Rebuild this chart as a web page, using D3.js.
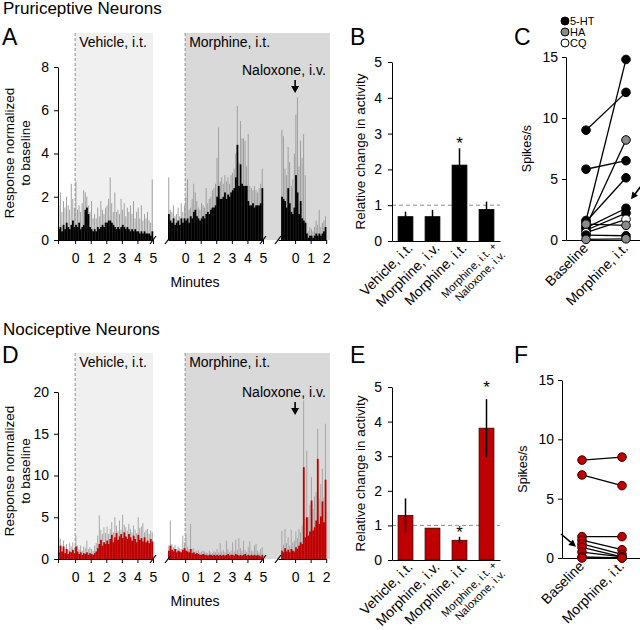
<!DOCTYPE html>
<html><head><meta charset="utf-8">
<script src="https://cdn.jsdelivr.net/npm/d3@7/dist/d3.min.js"></script>
<style>
body{margin:0;background:#fff}
svg text{font-family:"Liberation Sans",Arial,Helvetica,sans-serif;fill:#000}
</style>
</head><body>
<svg id="chart" width="640" height="630"></svg>
<script>
// ================= DATA =================
const binWidthMin = 0.1;
const longSegStart = -1.1;     // first bin (min) of vehicle / morphine traces
const nalSegStart = -0.9;      // first bin (min) of naloxone trace
const minuteTicksLong = [0, 1, 2, 3, 4, 5];
const minuteTicksShort = [0, 1, 2];
const pruYTicks = [0, 2, 4, 6, 8];
const nocYTicks = [0, 5, 10, 15, 20];

// Pruriceptive traces (mean = black, upper envelope = gray)
const pruVehMean = [0.5,0.6,0.4,0.7,0.5,0.8,0.6,0.5,0.7,0.9,0.6,
  0.7,0.6,0.8,0.5,0.6,0.7,1.4,1.5,1.2,0.6,
  0.5,0.4,0.5,0.4,0.6,0.5,0.6,0.7,0.6,0.8,
  0.8,0.9,0.9,0.8,0.7,0.6,0.5,0.6,0.5,0.6,
  0.7,0.6,0.5,0.6,0.5,0.4,0.5,0.4,0.5,0.4,
  0.4,0.3,0.4,0.3,0.4,0.3,0.3,0.3,0.2,0.4];
const pruVehUpper = [1.6,2.2,1.3,1.8,1.5,2.0,1.6,1.4,2.6,1.9,1.5,
  2.7,1.4,1.6,1.3,1.7,2.3,2.2,2.0,1.6,1.3,
  1.8,1.0,1.2,1.0,1.5,1.1,1.8,1.4,1.2,1.5,
  1.6,1.9,2.9,1.7,1.3,2.2,1.3,1.4,1.2,1.9,
  1.4,1.7,1.1,1.5,1.3,1.6,1.2,1.8,1.0,1.3,
  1.5,1.0,1.6,0.9,1.2,1.0,1.3,0.9,0.8,2.8];
const pruMorMean = [1.2,0.9,0.8,1.0,0.7,0.8,0.9,0.7,1.0,0.8,1.0,
  0.9,1.0,0.8,1.1,1.0,1.3,1.4,1.1,1.0,0.9,
  1.0,1.1,1.0,1.2,1.3,1.2,1.4,1.5,1.5,1.6,
  2.0,2.5,1.9,1.9,2.0,2.2,1.9,2.1,2.0,2.2,
  2.3,2.4,2.9,4.4,2.5,3.5,2.6,2.5,2.5,2.5,
  1.8,1.6,1.6,1.7,1.5,1.6,1.6,1.6,1.7,2.4];
const pruMorUpper = [2.9,1.4,1.3,1.6,1.1,1.2,1.5,1.1,1.7,1.3,1.6,
  2.0,2.8,1.4,1.5,1.9,2.6,2.2,1.8,1.5,1.4,
  1.7,1.6,1.5,2.4,1.7,1.9,2.0,2.3,2.4,2.6,
  3.8,5.2,2.7,2.9,2.6,3.0,2.7,2.9,2.6,3.0,
  3.1,3.3,4.0,6.2,3.6,5.5,4.7,4.7,4.6,3.4,
  4.9,2.5,2.4,2.3,2.5,2.3,2.2,2.4,2.6,3.3];
const pruNalMean = [2.0,1.9,1.8,1.5,2.4,1.7,1.3,1.2,1.5,
  3.0,2.2,1.2,1.8,1.0,0.9,0.8,0.3,0.1,0.2,
  0.2,0.1,0.2,0.3,0.2,0.3,0.2,0.3,0.4,0.6];
const pruNalUpper = [5.1,4.8,3.3,3.0,4.3,3.6,2.5,2.8,4.0,
  5.8,6.6,3.4,4.6,3.8,4.9,3.0,0.8,0.4,0.6,
  0.5,0.4,0.6,0.9,0.7,1.4,0.6,0.8,0.9,1.1];

// Nociceptive traces (mean = red, upper envelope = gray)
const nocVehMean = [0.8,1.6,0.9,1.5,0.7,1.2,0.6,0.9,0.8,1.1,0.7,
  1.5,0.9,0.6,0.8,0.5,0.7,0.6,0.8,0.5,0.7,
  0.6,0.5,0.7,0.9,1.3,1.8,2.3,1.6,2.0,1.8,
  2.2,1.8,2.4,2.9,2.0,2.6,3.1,2.3,2.7,3.0,
  2.5,3.2,2.7,2.4,3.0,2.6,2.2,2.8,2.4,2.0,
  2.9,2.3,2.5,2.1,2.6,2.0,2.2,1.9,2.4,2.1];
const nocVehUpper = [2.5,2.4,1.6,2.2,1.2,1.8,1.1,1.9,1.5,2.0,1.4,
  2.8,1.6,1.2,1.6,1.0,1.5,1.3,2.2,1.2,1.4,
  1.2,1.0,1.6,1.9,2.8,5.2,3.5,3.0,3.8,3.1,
  3.9,3.0,3.6,4.4,3.2,5.0,4.0,3.3,4.6,3.5,
  5.3,4.1,3.8,3.4,4.2,3.6,3.2,4.0,3.5,3.1,
  5.0,3.7,3.9,4.3,3.2,3.5,3.6,3.0,3.4,3.2];
const nocMorMean = [1.0,1.6,1.1,0.9,1.2,0.8,1.0,0.9,0.8,1.1,1.3,
  1.0,0.9,0.8,1.2,0.7,0.8,0.6,0.7,0.6,0.5,
  0.5,0.6,0.5,0.5,0.4,0.5,0.5,0.4,0.5,0.4,
  0.5,0.4,0.5,0.4,0.5,0.4,0.5,0.6,0.4,0.5,
  0.5,0.4,0.6,0.5,0.4,0.5,0.4,0.5,0.6,0.4,
  0.5,0.4,0.5,0.4,0.5,0.4,0.5,0.4,0.3,0.5];
const nocMorUpper = [1.6,4.6,1.8,1.4,1.7,1.2,1.5,1.3,1.2,2.8,2.0,
  3.0,1.5,1.2,4.2,1.2,1.3,0.9,1.0,1.1,0.8,
  0.9,1.0,0.9,0.8,0.7,1.0,0.8,0.7,0.9,0.8,
  1.2,0.8,1.9,0.9,1.1,0.8,2.2,1.2,0.8,1.0,
  2.0,0.9,2.3,1.1,2.5,1.3,1.0,2.2,1.1,0.8,
  1.4,2.1,1.0,0.9,1.6,1.8,1.0,0.8,1.2,1.4];
const nocNalMean = [1.0,0.8,1.3,0.9,1.1,0.8,1.2,1.0,0.9,
  1.4,1.2,1.6,2.0,1.8,11.0,2.6,5.0,2.8,3.3,
  7.0,3.4,3.8,4.6,12.0,4.2,5.1,6.9,4.4,9.5];
const nocNalUpper = [3.4,1.7,3.6,1.9,2.6,1.6,3.5,2.0,2.2,
  3.3,2.5,3.6,3.2,4.0,19.0,4.8,13.0,5.0,6.5,
  9.8,6.0,7.5,8.0,15.6,7.2,9.0,10.8,7.4,16.2];

// Bar charts (B, E)
const barCategories = ["Vehicle, i.t.", "Morphine, i.v.", "Morphine, i.t.", "Morphine, i.t. +|Naloxone, i.v."];
const barYTicks = [0, 1, 2, 3, 4, 5];
const pruBarMean = [0.68, 0.68, 2.12, 0.88];
const pruBarErr  = [0.14, 0.19, 0.47, 0.22];
const pruBarStar = [null, null, 2.79, null];
const nocBarMean = [1.29, 0.92, 0.57, 3.81];
const nocBarErr  = [0.49, 0.0, 0.10, 0.84];
const nocBarStar = [null, null, 0.87, 5.06];

// Paired spike rates (C, F)
const spikeCats = ["Baseline", "Morphine, i.t."];
const spikeYTicks = [0, 5, 10, 15];
const legendLabels = ["5-HT", "HA", "CQ"];
const pruSpikeBase = [9.0, 5.8, 1.6, 1.1, 1.5, 1.0, 0.8, 0.6, 1.3, 0.4, 0.05];
const pruSpikeMor  = [12.1, 6.5, 14.8, 8.2, 5.1, 2.6, 2.2, 1.7, 1.2, 0.35, 0.1];
const pruSpikeType = ["5-HT","5-HT","5-HT","HA","5-HT","5-HT","5-HT","CQ","HA","5-HT","HA"];
const nocSpikeBase = [8.25, 7.0, 1.8, 1.5, 1.2, 0.9, 0.5, 0.1, 0.0];
const nocSpikeMor  = [8.5, 6.1, 1.8, 0.7, 0.3, 0.1, 0.1, 0.0, 0.0];

// ================= DRAW =================
const svg = d3.select("#chart");
const RED = "#c00000";
const typeFill = {"5-HT": "#000", "HA": "#8a8a8a", "CQ": "#fff"};
const intFmt = d3.format("d");

function styleAxis(sel, fs) {
  sel.selectAll("path,line").attr("stroke", "#000").attr("stroke-width", 1);
  sel.selectAll("text").attr("font-size", fs).attr("font-family", '"Liberation Sans",Arial,sans-serif').attr("fill", "#000");
}
function txt(g, x, y, s, fs, anchor) {
  return g.append("text").attr("x", x).attr("y", y).attr("font-size", fs)
    .attr("text-anchor", anchor || "start").text(s);
}
function arrowDown(g, x, y1, y2) {
  g.append("line").attr("x1", x).attr("x2", x).attr("y1", y1).attr("y2", y2 - 5)
    .attr("stroke", "#000").attr("stroke-width", 1.6);
  g.append("path").attr("d", `M${x-4},${y2-7}L${x+4},${y2-7}L${x},${y2}Z`).attr("fill", "#000");
}
function arrowTo(g, x1, y1, x2, y2) {
  const a = Math.atan2(y2 - y1, x2 - x1), L = 7, w = 3.5;
  const bx = x2 - L * Math.cos(a), by = y2 - L * Math.sin(a);
  g.append("line").attr("x1", x1).attr("y1", y1).attr("x2", bx).attr("y2", by)
    .attr("stroke", "#000").attr("stroke-width", 1.6);
  g.append("path").attr("d",
    `M${x2},${y2}L${bx - w*Math.sin(a)},${by + w*Math.cos(a)}L${bx + w*Math.sin(a)},${by - w*Math.cos(a)}Z`)
    .attr("fill", "#000");
}

function tracePanel(c) {
  const g = svg.append("g");
  const y = d3.scaleLinear().domain([0, c.yMax]).range([c.y0, c.yTop]);
  const xs = [
    d3.scaleLinear().domain([longSegStart, 5]).range([58, 153]),
    d3.scaleLinear().domain([longSegStart, 5]).range([168, 263]),
    d3.scaleLinear().domain([longSegStart, 2]).range([278, 326.2])
  ];
  // backgrounds
  g.append("rect").attr("x", xs[0](0)).attr("y", c.bgTop).attr("width", xs[0](5) - xs[0](0))
    .attr("height", c.y0 - c.bgTop).attr("fill", "#f0f0f0");
  g.append("rect").attr("x", xs[1](0)).attr("y", c.bgTop).attr("width", 330 - xs[1](0))
    .attr("height", c.y0 - c.bgTop).attr("fill", "#d9d9d9");
  [xs[0](0), xs[1](0)].forEach(x => g.append("line").attr("x1", x).attr("x2", x)
    .attr("y1", c.bgTop).attr("y2", c.y0).attr("stroke", "#8c8c8c").attr("stroke-width", 1)
    .attr("stroke-dasharray", "3,2"));
  txt(g, xs[0](0) + 4, c.bgTop + 14, "Vehicle, i.t.", 14);
  txt(g, xs[1](0) + 4, c.bgTop + 14, "Morphine, i.t.", 14);
  txt(g, 242, c.nalTextY, "Naloxone, i.v.", 14);
  arrowDown(g, xs[2](0), c.nalTextY + 5, c.nalTextY + 18);

  // bars: thin gray spikes (upper envelope) behind the mean histogram
  const segs = [[c.veh, longSegStart], [c.mor, longSegStart], [c.nal, nalSegStart]];
  segs.forEach(([s, start], i) => {
    const x = xs[i];
    const bw = x(binWidthMin) - x(0);
    g.append("g").selectAll("rect").data(s.upper).join("rect")
      .attr("x", (d, j) => x(start + j * binWidthMin) + bw * 0.2)
      .attr("y", d => y(d))
      .attr("width", bw * 0.6)
      .attr("height", d => c.y0 - y(d))
      .attr("fill", c.upperColor);
    g.append("g").selectAll("rect").data(s.mean).join("rect")
      .attr("x", (d, j) => x(start + j * binWidthMin))
      .attr("y", d => y(d))
      .attr("width", bw + 0.25)
      .attr("height", d => c.y0 - y(d))
      .attr("fill", c.meanColor);
  });

  // axes
  const ya = g.append("g").attr("transform", `translate(58,0)`)
    .call(d3.axisLeft(y).tickValues(c.yTicks).tickSize(4).tickSizeOuter(0).tickPadding(5).tickFormat(intFmt));
  styleAxis(ya, 14);
  xs.forEach((x, i) => {
    const tv = i === 0 ? [longSegStart].concat(minuteTicksLong) : (i === 1 ? minuteTicksLong : minuteTicksShort);
    const xa = g.append("g").attr("transform", `translate(0,${c.y0})`)
      .call(d3.axisBottom(x).tickValues(tv).tickSize(4).tickSizeOuter(0).tickPadding(9)
        .tickFormat(d => d < 0 ? "" : intFmt(d)));
    styleAxis(xa, 14);
  });
  // break marks
  [xs[0](5), xs[1](longSegStart), xs[1](5), xs[2](longSegStart)].forEach(bx =>
    g.append("line").attr("x1", bx - 3).attr("y1", c.y0 + 4).attr("x2", bx + 3).attr("y2", c.y0 - 4)
      .attr("stroke", "#000").attr("stroke-width", 1.2));
  txt(g, 195, c.y0 + 47, "Minutes", 14, "middle");
  // y title
  const yt = g.append("text").attr("transform", `translate(14,${c.yTitleC}) rotate(-90)`)
    .attr("text-anchor", "middle").attr("font-size", 13.5);
  yt.append("tspan").attr("x", 0).attr("dy", 0).text("Response normalized");
  yt.append("tspan").attr("x", 0).attr("dy", 16).text("to baseline");
}

function barPanel(c) {
  const g = svg.append("g");
  const y = d3.scaleLinear().domain([0, 5]).range([c.y0, c.yTop]);
  const x = d3.scaleBand().domain(barCategories).range([392, 500]).paddingInner(0.45).paddingOuter(0.225);
  g.append("line").attr("x1", 392).attr("x2", 500).attr("y1", y(1)).attr("y2", y(1))
    .attr("stroke", "#8c8c8c").attr("stroke-dasharray", "4,3").attr("stroke-width", 1);
  g.selectAll(".bar").data(c.mean).join("rect")
    .attr("x", (d, i) => x(barCategories[i])).attr("width", x.bandwidth())
    .attr("y", d => y(d)).attr("height", d => c.y0 - y(d))
    .attr("fill", c.color).attr("stroke", c.stroke).attr("stroke-width", 0.8);
  g.selectAll(".err").data(c.mean).join("line")
    .attr("x1", (d, i) => x(barCategories[i]) + x.bandwidth() / 2)
    .attr("x2", (d, i) => x(barCategories[i]) + x.bandwidth() / 2)
    .attr("y1", (d, i) => y(d - c.err[i])).attr("y2", (d, i) => y(d + c.err[i]))
    .attr("stroke", "#000").attr("stroke-width", 1.5);
  c.star.forEach((s, i) => {
    if (s == null) return;
    txt(g, x(barCategories[i]) + x.bandwidth() / 2, y(s) + 8, "*", 17, "middle");
  });
  const ya = g.append("g").attr("transform", "translate(392,0)")
    .call(d3.axisLeft(y).tickValues(barYTicks).tickSize(4).tickSizeOuter(0).tickPadding(6).tickFormat(intFmt));
  styleAxis(ya, 14);
  const xa = g.append("g").attr("transform", `translate(0,${c.y0})`)
    .call(d3.axisBottom(x).tickSize(0).tickSizeOuter(0).tickFormat(""));
  styleAxis(xa, 14);
  barCategories.forEach(cat => {
    const cx = x(cat) + x.bandwidth() / 2;
    const parts = cat.split("|");
    if (parts.length === 1) {
      g.append("text").attr("transform", `translate(${cx + 8},${c.y0 + 8}) rotate(-45)`)
        .attr("text-anchor", "end").attr("font-size", 14).text(cat);
    } else {
      const t = g.append("text").attr("transform", `translate(${cx + 11},${c.y0 + 6}) rotate(-45)`)
        .attr("text-anchor", "end").attr("font-size", 11);
      t.append("tspan").attr("x", 0).attr("dy", 0).text(parts[0]);
      t.append("tspan").attr("x", 0).attr("dy", 12).text(parts[1]);
    }
  });
  g.append("text").attr("transform", `translate(365,${(c.y0 + c.yTop) / 2}) rotate(-90)`)
    .attr("text-anchor", "middle").attr("font-size", 13.5).text("Relative change in activity");
}

function spikePanel(c) {
  const g = svg.append("g");
  const y = d3.scaleLinear().domain([0, 15]).range([c.y0, c.yTop]);
  const x = d3.scalePoint().domain(spikeCats).range([c.ax, c.ax + 80]).padding(0.5);
  const xb = x(spikeCats[0]), xm = x(spikeCats[1]);
  g.selectAll(".ln").data(c.base).join("line")
    .attr("x1", xb).attr("x2", xm).attr("y1", d => y(d)).attr("y2", (d, i) => y(c.mor[i]))
    .attr("stroke", "#000").attr("stroke-width", 1.3);
  const ya = g.append("g").attr("transform", `translate(${c.ax},0)`)
    .call(d3.axisLeft(y).tickValues(spikeYTicks).tickSize(4).tickSizeOuter(0).tickPadding(4).tickFormat(intFmt));
  styleAxis(ya, 14);
  const xa = g.append("g").attr("transform", `translate(0,${c.y0})`)
    .call(d3.axisBottom(x).tickSize(0).tickSizeOuter(0).tickFormat(""));
  styleAxis(xa, 14);
  [[c.base, xb], [c.mor, xm]].forEach(([arr, xx]) => {
    g.append("g").selectAll("circle").data(arr).join("circle")
      .attr("cx", xx).attr("cy", d => y(d)).attr("r", 4.3)
      .attr("fill", (d, i) => c.fill(i)).attr("stroke", c.stroke).attr("stroke-width", 1);
  });
  spikeCats.forEach(cat => {
    g.append("text").attr("transform", `translate(${x(cat) + 3},${c.y0 + 9}) rotate(-45)`)
      .attr("text-anchor", "end").attr("font-size", 14).text(cat);
  });
  g.append("text").attr("transform", `translate(${c.ax - 35},${(c.y0 + c.yTop) / 2}) rotate(-90)`)
    .attr("text-anchor", "middle").attr("font-size", 12.5).text("Spikes/s");
  return {g, x, y};
}

// Titles and panel letters
txt(svg, 3, 14, "Pruriceptive Neurons", 17);
txt(svg, 3, 335, "Nociceptive Neurons", 17);
[["A", 2, 45], ["B", 350, 45], ["C", 514, 45], ["D", 2, 363], ["E", 350, 363], ["F", 514, 363]]
  .forEach(([l, x, yy]) => txt(svg, x, yy, l, 23));

tracePanel({y0: 240, yTop: 67, yMax: 8, yTicks: pruYTicks, bgTop: 33, nalTextY: 75, yTitleC: 153,
  veh: {mean: pruVehMean, upper: pruVehUpper}, mor: {mean: pruMorMean, upper: pruMorUpper},
  nal: {mean: pruNalMean, upper: pruNalUpper}, meanColor: "#000", upperColor: "#9a9a9a"});
tracePanel({y0: 559, yTop: 392, yMax: 20, yTicks: nocYTicks, bgTop: 353, nalTextY: 397, yTitleC: 471,
  veh: {mean: nocVehMean, upper: nocVehUpper}, mor: {mean: nocMorMean, upper: nocMorUpper},
  nal: {mean: nocNalMean, upper: nocNalUpper}, meanColor: RED, upperColor: "#a2a2a2"});

barPanel({y0: 241, yTop: 62, mean: pruBarMean, err: pruBarErr, star: pruBarStar, color: "#000", stroke: "#000"});
barPanel({y0: 560, yTop: 387, mean: nocBarMean, err: nocBarErr, star: nocBarStar, color: RED, stroke: "#3a0000"});

const pc = spikePanel({ax: 566, y0: 240, yTop: 57, base: pruSpikeBase, mor: pruSpikeMor,
  fill: i => typeFill[pruSpikeType[i]], stroke: "#000"});
const nc = spikePanel({ax: 562, y0: 558, yTop: 380, base: nocSpikeBase, mor: nocSpikeMor,
  fill: i => RED, stroke: "#3a0000"});

// legend for C
legendLabels.forEach((l, i) => {
  const yy = 21 + i * 11;
  svg.append("circle").attr("cx", 565).attr("cy", yy).attr("r", 4).attr("fill", typeFill[l])
    .attr("stroke", "#000").attr("stroke-width", 1);
  txt(svg, 570, yy + 4, l, 11);
});
// arrows in C and F
arrowTo(pc.g, 641, 186, pc.x(spikeCats[1]) + 5, pc.y(2.6) - 9);
arrowTo(nc.g, 561, 534, nc.x(spikeCats[0]) - 6, nc.y(1.2) + 3);
</script>
</body></html>
